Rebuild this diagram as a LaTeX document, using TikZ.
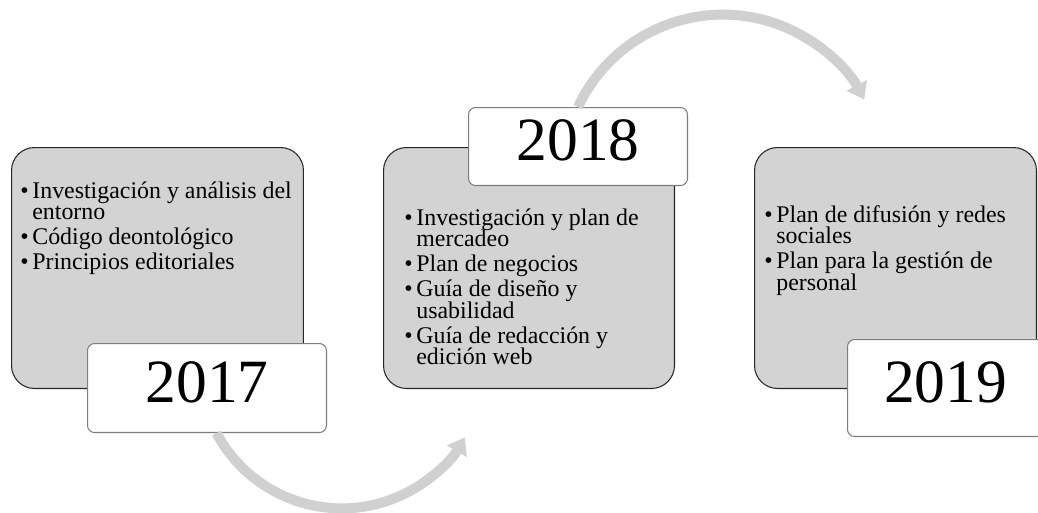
\documentclass[tikz,border=0pt]{standalone}
\usepackage{fontspec}
\setmainfont{Liberation Serif}
\usetikzlibrary{arrows.meta}
\definecolor{boxgray}{RGB}{211,211,211}
\definecolor{arcgray}{RGB}{208,208,208}
\definecolor{framegray}{RGB}{125,125,125}
\tikzstyle{phase} = [draw=black!85,fill=boxgray,rounded corners=0.46cm,anchor=north west,inner sep=0pt,line width=0.6pt]
\tikzstyle{year} = [draw=framegray,fill=white,rounded corners=0.14cm,anchor=north west,inner sep=0pt,line width=0.6pt,font=\fontsize{35}{40}\selectfont,text depth=0.24cm]
\tikzstyle{items} = [anchor=base west,inner sep=0pt]
\tikzstyle{flow} = [line width=0.2cm,draw=arcgray,-{Triangle[width=0.44cm,length=0.32cm]}]
\newcommand{\listfont}{\fontsize{13.6}{12.2}\selectfont\lineskiplimit=-20pt\relax}
\newcommand{\bul}{\makebox[0.24cm][l]{\textbullet}}
\newcommand{\ind}{\hspace*{0.24cm}}
\newcommand{\gap}{2.1pt}

\begin{document}
\begin{tikzpicture}[x=0.02cm,y=-0.02cm]
\useasboundingbox (0,0) rectangle (1038,512);
\clip (0,0) rectangle (1038,512);

\foreach \n/\x/\w in {2017/11/5.84,2018/383/5.82,2019/754/5.64}
{
\node[phase,minimum width=\w cm,minimum height=4.82cm] (p\n) at (\x,147) {};
}

\foreach \n/\x/\y/\w/\h in {2017/87/343/4.78/1.78,2018/468/107/4.38/1.56,2019/847/339/3.92/1.94}
{
\node[year,minimum width=\w cm,minimum height=\h cm] (y\n) at (\x,\y) {\n};
}

\node[items] (t2017) at (20,198) {\parbox[t]{5.6cm}{\listfont
\bul Investigación y análisis del\\
\ind entorno\\[\gap]
\bul Código deontológico\\[\gap]
\bul Principios editoriales}};

\node[items] (t2018) at (404,225) {\parbox[t]{5.6cm}{\listfont
\bul Investigación y plan de\\
\ind mercadeo\\[\gap]
\bul Plan de negocios\\[\gap]
\bul Guía de diseño y\\
\ind usabilidad\\[\gap]
\bul Guía de redacción y\\
\ind edición web}};

\node[items] (t2019) at (764,222) {\parbox[t]{5.6cm}{\listfont
\bul Plan de difusión y redes\\
\ind sociales\\[\gap]
\bul Plan para la gestión de\\
\ind personal}};

\draw[flow] ([xshift=0.19cm]y2017.south) arc[start angle=208,end angle=330,radius=2.84cm];
\draw[flow] (y2018.north) arc[start angle=155,end angle=28,radius=3.2cm];
\end{tikzpicture}
\end{document}
